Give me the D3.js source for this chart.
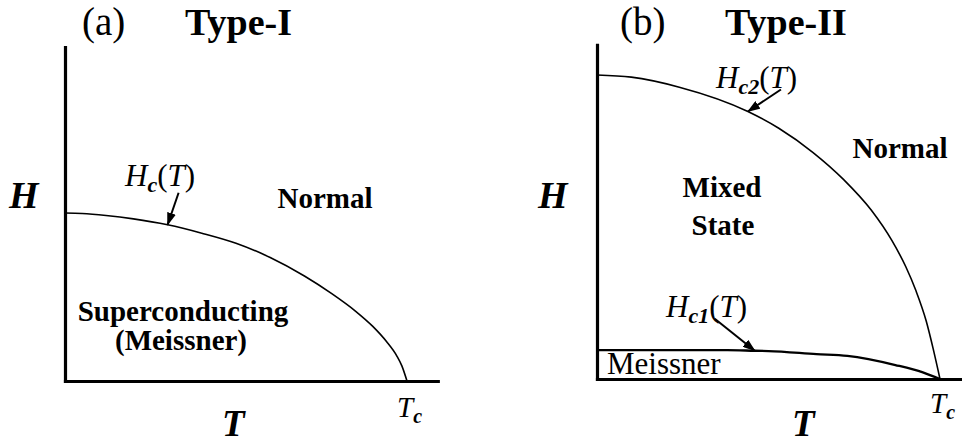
<!DOCTYPE html>
<html>
<head>
<meta charset="utf-8">
<script src="https://cdn.jsdelivr.net/npm/d3@7"></script>
<style>
  html, body { margin: 0; padding: 0; background: #fff; }
  svg { display: block; }
</style>
</head>
<body>
<svg id="chart" width="962" height="444"></svg>
<script>
// Phase boundaries in reduced units: temperature T/Tc, field relative to the
// zero-temperature value of the upper boundary of each panel.
const hcTemp   = [0, 0.05, 0.12, 0.2, 0.3, 0.4, 0.5, 0.6, 0.7, 0.78, 0.85, 0.9, 0.94, 0.97, 0.985, 1.0];
const hcField  = [1.0, 0.997, 0.985, 0.965, 0.93, 0.88, 0.82, 0.735, 0.625, 0.52, 0.415, 0.325, 0.235, 0.15, 0.09, 0];

const hc2Temp  = [0, 0.1, 0.24, 0.44, 0.53, 0.63, 0.72, 0.8, 0.86, 0.9, 0.93, 0.96, 0.98, 1.0];
const hc2Field = [1.0, 0.993, 0.96, 0.88, 0.825, 0.745, 0.655, 0.555, 0.455, 0.37, 0.29, 0.19, 0.10, 0];

const hc1Temp  = [0, 0.38, 0.46, 0.5, 0.64, 0.73, 0.87, 0.95, 1.0];
const hc1Field = [0.095, 0.095, 0.093, 0.092, 0.082, 0.076, 0.046, 0.022, 0];

const panelTags   = ["(a)", "(b)"];
const panelTitles = ["Type-I", "Type-II"];
const axisNames   = { x: "T", y: "H" };
const tcTick      = 1.0;   // position of the Tc tick on the reduced temperature axis

const FONT = "'Liberation Serif'";
const svg = d3.select("#chart");

const marker = svg.append("defs").append("marker")
  .attr("id", "head")
  .attr("viewBox", "0 0 13 9")
  .attr("refX", 12).attr("refY", 4.5)
  .attr("markerWidth", 13).attr("markerHeight", 9)
  .attr("markerUnits", "userSpaceOnUse")
  .attr("orient", "auto");
marker.append("path").attr("d", "M0,0 L13,4.5 L0,9 Z").attr("fill", "#000");

// Rich text: each segment may be italic, bold or a subscript.
function richText(g, x, y, segs, size, anchor) {
  const t = g.append("text")
    .attr("x", x).attr("y", y)
    .attr("font-family", FONT)
    .attr("font-size", size)
    .attr("text-anchor", anchor || "start")
    .attr("fill", "#000");
  let shifted = 0;
  segs.forEach(s => {
    const sp = t.append("tspan").text(s.t);
    if (s.it) sp.attr("font-style", "italic");
    if (s.b) sp.attr("font-weight", "bold");
    const want = s.sub ? Math.round(size * 0.2) : 0;
    if (want !== shifted) { sp.attr("dy", want - shifted); shifted = want; }
    if (s.sub) sp.attr("font-size", Math.round(size * 0.7));
  });
  return t;
}

function plain(g, x, y, str, size, opts) {
  opts = opts || {};
  return g.append("text")
    .attr("x", x).attr("y", y)
    .attr("font-family", FONT)
    .attr("font-size", size)
    .attr("font-weight", opts.bold ? "bold" : "normal")
    .attr("font-style", opts.italic ? "italic" : "normal")
    .attr("text-anchor", opts.anchor || "start")
    .attr("fill", "#000")
    .text(str);
}

function drawPanel(p) {
  const g = svg.append("g");
  const x = d3.scaleLinear().domain([0, 1]).range(p.xRange);
  const y = d3.scaleLinear().domain([0, 1]).range(p.yRange);

  // Axes without ticks: only the domain line is drawn.
  const xAxisScale = x.copy().domain([0, p.xMax]).range([x(0), x(p.xMax)]);
  const yAxisScale = y.copy().domain([0, p.yMax]).range([y(0), y(p.yMax)]);
  const xa = g.append("g").attr("transform", `translate(0,${y(0)})`)
    .call(d3.axisBottom(xAxisScale).tickValues([]).tickSizeOuter(0));
  const ya = g.append("g").attr("transform", `translate(${x(0)},0)`)
    .call(d3.axisLeft(yAxisScale).tickValues([]).tickSizeOuter(0));
  [xa, ya].forEach(a => a.select(".domain")
    .attr("stroke", "#000").attr("stroke-width", 3.2).attr("stroke-linecap", "square"));

  const line = d3.line().x(d => x(d[0])).y(d => y(d[1])).curve(d3.curveMonotoneX);

  p.curves.forEach(c => {
    const pts = c.temp.map((t, i) => [t, c.field[i]]);
    g.append("path").datum(pts)
      .attr("d", line)
      .attr("fill", "none")
      .attr("stroke", "#000")
      .attr("stroke-width", c.width);
    if (c.arrow) {
      const i = c.temp.indexOf(c.arrow.at);
      const tx = x(c.temp[i]), ty = y(c.field[i]);
      g.append("line")
        .attr("x1", tx + c.arrow.dx).attr("y1", ty + c.arrow.dy)
        .attr("x2", tx).attr("y2", ty)
        .attr("stroke", "#000").attr("stroke-width", 2)
        .attr("marker-end", "url(#head)");
    }
  });

  plain(g, p.tagX, 35, p.tag, 39);
  plain(g, p.titleX, 35, p.title, 38, { bold: true });

  plain(g, p.hLabelX, 208, axisNames.y, 38, { bold: true, italic: true });
  plain(g, p.tLabelX, 436, axisNames.x, 37, { bold: true, italic: true });

  richText(g, x(tcTick) - 10, y(0) + p.tcDy,
    [{ t: "T", it: true }, { t: "c", it: true, b: true, sub: true }], 29);

  p.draw(g, x, y);
}

drawPanel({
  tag: panelTags[0], title: panelTitles[0],
  tagX: 82, titleX: 185, hLabelX: 9, tLabelX: 222, tcDy: 36,
  xRange: [65, 407], yRange: [381, 213], xMax: 1.09, yMax: 1.988,
  curves: [
    { temp: hcTemp, field: hcField, width: 1.6, arrow: { at: 0.3, dx: 11, dy: -32 } }
  ],
  draw(g, x, y) {
    richText(g, 125, 186, [
      { t: "H", it: true }, { t: "c", it: true, b: true, sub: true },
      { t: "(" }, { t: "T", it: true }, { t: ")" }], 31);
    plain(g, 325, 208, "Normal", 29, { bold: true, anchor: "middle" });
    plain(g, 183, 321, "Superconducting", 29, { bold: true, anchor: "middle" });
    plain(g, 181, 350, "(Meissner)", 29, { bold: true, anchor: "middle" });
  }
});

drawPanel({
  tag: panelTags[1], title: panelTitles[1],
  tagX: 620, titleX: 725, hLabelX: 538, tLabelX: 792, tcDy: 34,
  xRange: [597, 940], yRange: [379, 75], xMax: 1.064, yMax: 1.099,
  curves: [
    { temp: hc2Temp, field: hc2Field, width: 1.6, arrow: { at: 0.44, dx: 33, dy: -22 } },
    { temp: hc1Temp, field: hc1Field, width: 2.3, arrow: { at: 0.46, dx: -40, dy: -32 } }
  ],
  draw(g, x, y) {
    richText(g, 716, 88, [
      { t: "H", it: true }, { t: "c2", it: true, b: true, sub: true },
      { t: "(" }, { t: "T", it: true }, { t: ")" }], 31);
    richText(g, 666, 317, [
      { t: "H", it: true }, { t: "c1", it: true, b: true, sub: true },
      { t: "(" }, { t: "T", it: true }, { t: ")" }], 31);
    plain(g, 900, 158, "Normal", 29, { bold: true, anchor: "middle" });
    plain(g, 722, 197, "Mixed", 29, { bold: true, anchor: "middle" });
    plain(g, 723, 235, "State", 29, { bold: true, anchor: "middle" });
    plain(g, 607, 374, "Meissner", 31);
  }
});
</script>
</body>
</html>
